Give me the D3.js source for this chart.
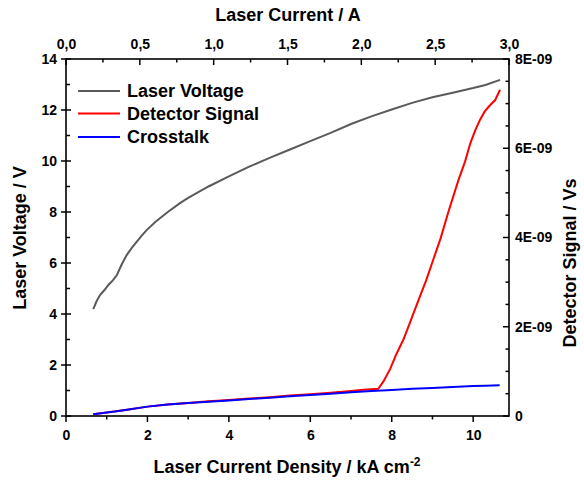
<!DOCTYPE html>
<html>
<head>
<meta charset="utf-8">
<script src="https://cdn.jsdelivr.net/npm/d3@7"></script>
<style>
  html, body { margin: 0; padding: 0; background: #fff; }
  svg { display: block; font-family: "Liberation Sans", Arial, sans-serif; font-weight: bold; }
</style>
</head>
<body>
<svg id="chart" width="584" height="480"></svg>
<script>
// Current density (kA cm^-2) and laser voltage (V)
const voltageX = [0.67,0.75,0.84,0.95,1.04,1.15,1.25,1.37,1.49,1.62,1.74,1.86,1.98,2.2,2.5,2.8,3.0,3.5,4.0,4.5,5.0,5.5,6.0,6.5,7.0,7.5,8.0,8.5,9.0,9.5,10.0,10.3,10.66];
const voltageV = [4.19,4.5,4.75,4.95,5.14,5.32,5.53,5.95,6.31,6.6,6.84,7.07,7.29,7.62,8.0,8.35,8.55,9.0,9.4,9.78,10.12,10.45,10.78,11.1,11.45,11.75,12.02,12.28,12.5,12.68,12.86,12.98,13.18];

// Detector signal (units of 1E-09 Vs)
const detectorX = [0.67,1.0,1.5,2.0,2.5,3.0,3.5,4.0,4.5,5.0,5.5,6.0,6.5,7.0,7.3,7.67,7.8,7.96,8.1,8.29,8.45,8.66,8.85,9.0,9.2,9.4,9.64,9.8,9.93,10.05,10.17,10.28,10.38,10.54,10.66];
const detectorV = [0.04,0.08,0.14,0.21,0.26,0.29,0.33,0.36,0.39,0.42,0.46,0.49,0.52,0.56,0.59,0.61,0.78,1.05,1.36,1.72,2.1,2.6,3.05,3.45,3.98,4.6,5.29,5.7,6.11,6.4,6.64,6.82,6.93,7.08,7.31];

// Crosstalk (units of 1E-09 Vs)
const crosstalkX = [0.67,1.0,1.2,1.5,2.0,2.5,3.0,3.5,4.0,4.5,5.0,5.5,6.0,6.5,7.0,7.5,8.0,8.5,9.0,9.5,10.0,10.3,10.65];
const crosstalkV = [0.04,0.08,0.10,0.14,0.21,0.26,0.29,0.32,0.35,0.38,0.41,0.44,0.47,0.50,0.53,0.56,0.58,0.61,0.63,0.65,0.67,0.68,0.69];

// Tick values and labels
const bottomTicks = [0,2,4,6,8,10];
const bottomMinor = [1,3,5,7,9];
const leftTicks = [0,2,4,6,8,10,12,14];
const leftMinor = [1,3,5,7,9,11,13];
const topTicks = [0,0.5,1.0,1.5,2.0,2.5,3.0];
const topMinor = [0.25,0.75,1.25,1.75,2.25,2.75];
const rightTicks = [0,2e-9,4e-9,6e-9,8e-9];
const rightLabels = ["0","2E-09","4E-09","6E-09","8E-09"];
const rightMinor = [0.5e-9,1e-9,1.5e-9,2.5e-9,3e-9,3.5e-9,4.5e-9,5e-9,5.5e-9,6.5e-9,7e-9,7.5e-9];

const seriesNames = ["Laser Voltage","Detector Signal","Crosstalk"];
const seriesColors = ["#5a5a5a","#ff0000","#0000ff"];

const svg = d3.select("#chart");
const L = 66, R = 509, T = 59, B = 416;

const x = d3.scaleLinear().domain([0, 10.88]).range([L, R]);
const xTop = d3.scaleLinear().domain([0, 3.0]).range([L, R]);
const yL = d3.scaleLinear().domain([0, 14]).range([B, T]);
const yR = d3.scaleLinear().domain([0, 8e-9]).range([B, T]);

const tickFont = 14;
const titleFont = 18;

// Curves
svg.append("defs").append("clipPath").attr("id", "plotClip")
  .append("rect").attr("x", L).attr("y", T).attr("width", R - L).attr("height", B - T);

const plot = svg.append("g").attr("clip-path", "url(#plotClip)");

const lineL = d3.line().x(d => x(d[0])).y(d => yL(d[1]));
const lineR = d3.line().x(d => x(d[0])).y(d => yR(d[1] * 1e-9));

plot.append("path").datum(d3.zip(voltageX, voltageV))
  .attr("d", lineL).attr("fill", "none").attr("stroke", seriesColors[0]).attr("stroke-width", 2);
plot.append("path").datum(d3.zip(detectorX, detectorV))
  .attr("d", lineR).attr("fill", "none").attr("stroke", seriesColors[1]).attr("stroke-width", 2);
plot.append("path").datum(d3.zip(crosstalkX, crosstalkV))
  .attr("d", lineR).attr("fill", "none").attr("stroke", seriesColors[2]).attr("stroke-width", 2);

// Axes: labels via d3 axes, tick marks drawn separately so each side can point its own way
function noLine(g) { g.select(".domain").remove(); g.selectAll("line").remove(); }
function styleLabels(sel) {
  sel.selectAll("text").attr("font-size", tickFont).attr("font-weight", "bold").attr("fill", "#000")
    .attr("font-family", "Liberation Sans, Arial, sans-serif");
}

svg.append("g").attr("transform", `translate(0,${B})`)
  .call(d3.axisBottom(x).tickValues(bottomTicks).tickSize(0).tickPadding(14).tickFormat(d3.format("d")))
  .call(noLine).call(styleLabels);

svg.append("g").attr("transform", `translate(${L},0)`)
  .call(d3.axisLeft(yL).tickValues(leftTicks).tickSize(0).tickPadding(9).tickFormat(d3.format("d")))
  .call(noLine).call(styleLabels);

svg.append("g").attr("transform", `translate(0,${T})`)
  .call(d3.axisTop(xTop).tickValues(topTicks).tickSize(0).tickPadding(10)
    .tickFormat(d => d3.format(".1f")(d).replace(".", ",")))
  .call(noLine).call(styleLabels);

svg.append("g").attr("transform", `translate(${R},0)`)
  .call(d3.axisRight(yR).tickValues(rightTicks).tickSize(0).tickPadding(6)
    .tickFormat((d, i) => rightLabels[i]))
  .call(noLine).call(styleLabels);

// Tick marks
const ticks = svg.append("g").attr("stroke", "#000").attr("stroke-width", 1.5);
// bottom: outward
ticks.selectAll(".bMaj").data(bottomTicks).join("line")
  .attr("x1", d => x(d)).attr("x2", d => x(d)).attr("y1", B).attr("y2", B + 6);
ticks.selectAll(".bMin").data(bottomMinor).join("line")
  .attr("x1", d => x(d)).attr("x2", d => x(d)).attr("y1", B).attr("y2", B + 3.5);
// left: major across, minor inward
ticks.selectAll(".lMaj").data(leftTicks).join("line")
  .attr("y1", d => yL(d)).attr("y2", d => yL(d)).attr("x1", L - 5).attr("x2", L + 5);
ticks.selectAll(".lMin").data(leftMinor).join("line")
  .attr("y1", d => yL(d)).attr("y2", d => yL(d)).attr("x1", L).attr("x2", L + 4);
// top: inward
ticks.selectAll(".tMaj").data(topTicks).join("line")
  .attr("x1", d => xTop(d)).attr("x2", d => xTop(d)).attr("y1", T).attr("y2", T + 6);
ticks.selectAll(".tMin").data(topMinor).join("line")
  .attr("x1", d => xTop(d)).attr("x2", d => xTop(d)).attr("y1", T).attr("y2", T + 3.5);
// right: inward
ticks.selectAll(".rMaj").data(rightTicks).join("line")
  .attr("y1", d => yR(d)).attr("y2", d => yR(d)).attr("x1", R - 6).attr("x2", R);
ticks.selectAll(".rMin").data(rightMinor).join("line")
  .attr("y1", d => yR(d)).attr("y2", d => yR(d)).attr("x1", R - 3.5).attr("x2", R);

// Frame
svg.append("rect").attr("x", L).attr("y", T).attr("width", R - L).attr("height", B - T)
  .attr("fill", "none").attr("stroke", "#000").attr("stroke-width", 1.6);

// Axis titles
svg.append("text").attr("x", 288).attr("y", 21).attr("text-anchor", "middle")
  .attr("font-size", titleFont).text("Laser Current / A");

const bt = svg.append("text").attr("x", 287).attr("y", 473).attr("text-anchor", "middle")
  .attr("font-size", titleFont);
bt.append("tspan").text("Laser Current Density / kA cm");
bt.append("tspan").attr("dy", -7).attr("font-size", 12).text("-2");

svg.append("text").attr("transform", "translate(26,238) rotate(-90)").attr("text-anchor", "middle")
  .attr("font-size", titleFont).text("Laser Voltage / V");

svg.append("text").attr("transform", "translate(576,263) rotate(-90)").attr("text-anchor", "middle")
  .attr("font-size", titleFont).text("Detector Signal / Vs");

// Legend
const legend = svg.append("g");
const legendY = [91, 113.5, 137];
seriesNames.forEach((name, i) => {
  legend.append("line").attr("x1", 78).attr("x2", 120).attr("y1", legendY[i]).attr("y2", legendY[i])
    .attr("stroke", seriesColors[i]).attr("stroke-width", 2.2);
  legend.append("text").attr("x", 127).attr("y", legendY[i]).attr("dy", "0.36em")
    .attr("font-size", titleFont).text(name);
});
</script>
</body>
</html>
